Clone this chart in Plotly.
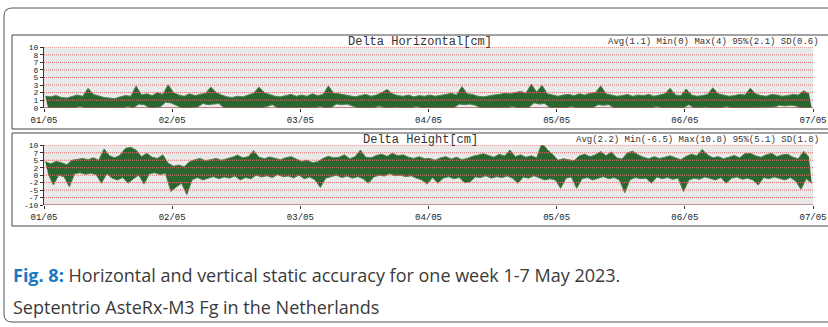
import plotly.graph_objects as go
from datetime import datetime, timedelta

# ---------------------------------------------------------------
# Hourly envelopes (max / min per hour) of the position deltas, cm
# 1-7 May 2023, 144 hours
# ---------------------------------------------------------------
horiz_hi = [
    1.9, 1.8, 2.0, 1.7, 1.6, 1.8, 2.1, 1.9, 3.2, 2.2, 1.9, 1.7,
    1.6, 1.5, 1.8, 2.0, 1.9, 3.6, 2.1, 2.3, 2.0, 2.5, 2.2, 3.8,
    2.5, 2.1, 1.9, 2.3, 2.0, 2.2, 2.4, 3.4, 2.5, 2.1, 1.8, 1.7,
    1.9, 1.8, 2.1, 2.4, 3.4, 2.5, 2.2, 1.9, 1.8, 2.0, 2.2, 1.9,
    2.1, 1.9, 2.3, 2.0, 2.2, 3.6, 2.4, 2.3, 2.1, 1.9, 1.8, 2.0,
    2.2, 1.9, 2.1, 2.5, 3.0, 2.3, 2.0, 1.9, 2.1, 1.8, 2.0, 1.9,
    2.1, 1.9, 2.0, 2.2, 2.4, 2.1, 3.5, 2.3, 2.2, 1.9, 1.8, 2.0,
    2.1, 2.2, 2.4, 2.3, 2.5, 2.7, 2.4, 3.9, 2.6, 3.7, 2.3, 2.1,
    1.9, 2.1, 2.2, 2.0, 2.3, 2.1, 2.4, 2.5, 3.6, 2.3, 2.1, 1.9,
    2.0, 2.2, 1.9, 2.1, 2.0, 2.2, 1.9, 2.1, 2.3, 3.2, 2.1, 2.0,
    3.1, 2.1, 1.9, 2.0, 2.2, 3.3, 2.3, 2.1, 1.9, 2.0, 2.2, 2.1,
    3.2, 2.3, 2.0, 1.9, 2.2, 2.1, 1.9, 2.0, 2.2, 2.1, 2.8, 2.3,
]
horiz_lo = [
    0.0, 0.0, 0.1, 0.0, 0.0, 0.0, 0.2, 0.0, 0.0, 0.0, 0.1, 0.0,
    0.0, 0.0, 0.0, 0.2, 0.0, 0.6, 0.5, 0.0, 0.0, 0.1, 0.9, 0.8,
    0.4, 0.0, 0.0, 0.0, 0.1, 0.7, 0.5, 0.6, 0.7, 0.0, 0.0, 0.0,
    0.0, 0.1, 0.0, 0.0, 0.0, 0.2, 0.5, 0.0, 0.0, 0.0, 0.0, 0.1,
    0.0, 0.0, 0.0, 0.2, 0.0, 0.0, 0.6, 0.5, 0.6, 0.3, 0.0, 0.0,
    0.0, 0.0, 0.3, 0.0, 0.0, 0.1, 0.0, 0.0, 0.0, 0.2, 0.0, 0.0,
    0.0, 0.1, 0.0, 0.0, 0.0, 0.6, 0.5, 0.6, 0.4, 0.0, 0.0, 0.0,
    0.1, 0.0, 0.0, 0.2, 0.0, 0.0, 0.0, 0.8, 0.6, 0.7, 0.0, 0.0,
    0.0, 0.0, 0.2, 0.0, 0.0, 0.0, 0.0, 0.5, 0.4, 0.5, 0.0, 0.0,
    0.0, 0.1, 0.0, 0.0, 0.0, 0.0, 0.2, 0.0, 0.0, 0.0, 0.0, 0.0,
    0.5, 0.0, 0.0, 0.1, 0.0, 0.0, 0.0, 0.2, 0.0, 0.0, 0.0, 0.1,
    0.0, 0.0, 0.0, 0.0, 0.1, 0.4, 0.3, 0.4, 0.3, 0.0, 0.0, 0.0,
]
height_hi = [
    4.5, 3.8, 4.6, 4.2, 3.5, 5.0, 5.3, 5.6, 5.2, 5.8, 5.0, 8.8,
    6.5, 5.8, 6.7, 9.0, 9.3, 8.4, 6.2, 7.3, 6.0, 5.6, 6.8, 4.0,
    3.0, 3.4, 2.8, 4.5, 5.2, 5.6, 4.8, 5.3, 5.6, 5.0, 5.4, 6.0,
    6.7, 5.8, 6.2, 8.2, 6.0, 5.5, 6.1, 5.6, 5.2, 5.8, 6.2, 5.4,
    4.6, 5.0, 4.2, 4.5, 5.6, 6.3, 5.8, 6.0, 6.8, 5.5, 6.2, 8.4,
    6.0, 5.8, 6.6, 7.0, 6.3, 7.3, 6.5, 6.8, 6.0, 5.6, 6.2, 5.5,
    5.6, 5.0, 5.8, 6.2, 5.4, 6.0, 5.2, 5.6, 6.3, 6.7, 7.2, 6.6,
    6.0, 7.0, 6.4, 8.4, 6.2, 6.8, 6.0, 6.5, 5.8, 10.8, 8.5, 7.0,
    5.0, 5.5, 5.2, 4.8, 6.5, 7.0, 6.2, 6.8, 7.9, 6.5, 7.8, 5.8,
    5.4, 7.5, 8.0, 6.8, 6.0, 5.5, 6.2, 5.6, 6.0, 6.5, 5.8, 5.2,
    6.3, 7.0, 6.5, 8.6, 6.8, 5.8, 6.2, 5.5, 6.0, 6.6, 5.8, 7.2,
    7.3, 6.5, 6.0, 6.8, 7.3, 6.2, 6.8, 7.0, 6.0, 5.5, 8.0, 6.0,
]
height_lo = [
    0.6, -3.3, 0.0, -0.5, -3.9, 0.5, 0.8, 0.3, 0.6, 0.2, -2.7, 0.5,
    -1.0, -1.6, -0.8, -2.7, -1.2, 0.0, -3.0, 0.5, 0.8, 0.2, 0.6, -5.5,
    -4.0, -2.7, -6.5, -1.5, -0.8, -1.6, -1.0, -0.5, -1.2, -0.6, -1.0, -0.3,
    -1.6, -0.8, -1.2, 0.0, -0.6, -0.2, -0.8, 0.2, -0.5, -0.3, -0.9, 0.0,
    -1.2, -0.6, -1.6, -4.1, -1.0, -0.4, 0.0, -0.8, -0.3, -1.0, -0.5, -1.2,
    -2.7, -0.6, 0.0, -0.3, 0.5, -0.2, 0.0, -0.5, -0.2, -1.0, -1.6, -3.0,
    -0.8, -2.7, -1.0, -0.5, -1.2, -0.8, -2.5, -2.3, -0.6, -0.8, -0.2, -1.0,
    -0.5, -0.8, -0.3, -1.0, -2.7, -0.6, -1.0, -0.2, -0.8, -1.6, -1.2, -1.6,
    -4.4, -1.0, -0.6, -4.4, -1.2, -0.8, -1.6, -1.0, -0.5, -1.2, -0.8, -1.6,
    -5.9, -1.5, -0.8, -1.2, -1.0, -2.7, -0.6, -1.2, -0.8, -1.4, -1.0, -5.5,
    -1.6, -1.0, -1.4, -0.6, -1.2, -1.6, -0.8, -2.7, -1.0, -0.6, -1.4, -1.0,
    -1.6, -3.3, -0.8, -1.2, -0.6, -1.0, -1.6, -0.8, -2.0, -4.7, -1.2, -2.7,
]

day_labels = ["01/05", "02/05", "03/05", "04/05", "05/05", "06/05", "07/05"]
horiz_ticks = [0, 1.25, 2.5, 3.75, 5, 6.25, 7.5, 8.75, 10]
horiz_ticktext = ["0", "1", "2", "3", "5", "6", "7", "8", "10"]
height_ticks = [-10, -7.5, -5, -2.5, 0, 2.5, 5, 7.5, 10]
height_ticktext = ["-10", "-7", "-5", "-2", "0", "2", "5", "7", "10"]

horiz_title = "Delta Horizontal[cm]"
horiz_stats = "Avg(1.1) Min(0) Max(4) 95%(2.1) SD(0.6)"
height_title = "Delta Height[cm]"
height_stats = "Avg(2.2) Min(-6.5) Max(10.8) 95%(5.1) SD(1.8)"

caption_1 = ("<b><span style='color:#1a78c2'>Fig. 8:</span></b> "
             "Horizontal and vertical static accuracy for one week 1-7 May 2023.")
caption_2 = "Septentrio AsteRx-M3 Fg in the Netherlands"

# ---------------------------------------------------------------
W, H = 828, 327
start = datetime(2023, 5, 1)
t_hi = [start + timedelta(minutes=60 * h + 15) for h in range(len(horiz_hi))]
t_lo = [start + timedelta(minutes=60 * h + 45) for h in range(len(horiz_lo))]
days = [start + timedelta(days=d) for d in range(len(day_labels))]


def px(x):
    return x / W


def py(y):
    return 1 - y / H


MONO = "Liberation Mono, Courier New, monospace"
DARK = "#2a6630"
EDGE = "#4d8452"

fig = go.Figure()


def band(lo, hi, xa, ya):
    # filled envelope between each hour's min and max
    fig.add_trace(go.Scatter(x=t_lo, y=lo, mode="lines", xaxis=xa, yaxis=ya,
                             line=dict(color=EDGE, width=1),
                             hoverinfo="skip", showlegend=False))
    fig.add_trace(go.Scatter(x=t_hi, y=hi, mode="lines", xaxis=xa, yaxis=ya,
                             line=dict(color=EDGE, width=1), fill="tonexty",
                             fillcolor=DARK, hoverinfo="skip",
                             showlegend=False))


band(horiz_lo, horiz_hi, "x", "y")
band(height_lo, height_hi, "x2", "y2")

plot_l, plot_r = 44, 813
p1_top, p1_bot = 47.3, 107.7
p2_top, p2_bot = 145.3, 205.0

xcommon = dict(type="date", range=[days[0], days[-1]], tickvals=days,
               ticktext=day_labels, ticks="outside", ticklen=3,
               tickcolor="#333", tickwidth=1, showgrid=False, zeroline=False,
               showline=False, automargin=False,
               tickfont=dict(family=MONO, size=9, color="#222"),
               domain=[px(plot_l), px(plot_r)], fixedrange=True)
ycommon = dict(ticks="outside", ticklen=3, tickcolor="#333", tickwidth=1,
               showgrid=False, zeroline=False, showline=True,
               linecolor="#333", linewidth=1, automargin=False,
               tickfont=dict(family=MONO, size=8, color="#222"),
               fixedrange=True)

fig.update_layout(
    width=W, height=H, margin=dict(l=0, r=0, t=0, b=0, autoexpand=False),
    paper_bgcolor="white", plot_bgcolor="#e9e9e9",
    xaxis=dict(anchor="y", **xcommon),
    yaxis=dict(anchor="x", range=[0, 10], tickvals=horiz_ticks,
               ticktext=horiz_ticktext, domain=[py(p1_bot), py(p1_top)],
               **ycommon),
    xaxis2=dict(anchor="y2", **xcommon),
    yaxis2=dict(anchor="x2", range=[-10, 10], tickvals=height_ticks,
                ticktext=height_ticktext, domain=[py(p2_bot), py(p2_top)],
                **ycommon),
)

shapes = []
# dotted red grid drawn over the data
for ya, levels in (("y", horiz_ticks), ("y2", height_ticks)):
    xa = "x" if ya == "y" else "x2"
    for i, lv in enumerate(levels):
        base = i == 0
        shapes.append(dict(type="line", xref=xa + " domain", x0=0, x1=1,
                           yref=ya, y0=lv, y1=lv, layer="above",
                           line=dict(color="#a83a3a" if base else "#e46a6a",
                                     width=1,
                                     dash="solid" if base else "1px,1px")))

# panel frames
for top, bot in ((35, 129), (133, 226)):
    shapes.append(dict(type="rect", xref="paper", yref="paper",
                       x0=px(12), x1=px(840), y0=py(bot), y1=py(top),
                       line=dict(color="#444", width=1), layer="above"))

# outer rounded border (open on the right)
r = 8
path = (f"M {px(840)},{py(8)} L {px(4 + r)},{py(8)} "
        f"Q {px(4)},{py(8)} {px(4)},{py(8 + r)} "
        f"L {px(4)},{py(322 - r)} Q {px(4)},{py(322)} {px(4 + r)},{py(322)} "
        f"L {px(840)},{py(322)}")
shapes.append(dict(type="path", xref="paper", yref="paper", path=path,
                   line=dict(color="#555", width=1), layer="above"))

fig.update_layout(shapes=shapes)

annots = []
for title, stats, yc in ((horiz_title, horiz_stats, 42),
                         (height_title, height_stats, 140)):
    annots.append(dict(text=title, xref="paper", yref="paper", x=px(420),
                       y=py(yc), xanchor="center", yanchor="middle",
                       showarrow=False,
                       font=dict(family=MONO, size=12, color="#333")))
    annots.append(dict(text=stats, xref="paper", yref="paper", x=px(821),
                       y=py(yc), xanchor="right", yanchor="middle",
                       showarrow=False,
                       font=dict(family=MONO, size=9, color="#333")))

for text, yc in ((caption_1, 275), (caption_2, 307)):
    annots.append(dict(text=text, xref="paper", yref="paper", x=px(11),
                       y=py(yc), xanchor="left", yanchor="middle",
                       showarrow=False,
                       font=dict(family="Open Sans, sans-serif", size=18,
                                 color="#3a3a3a")))

fig.update_layout(annotations=annots)

fig.write_html("out.html")
